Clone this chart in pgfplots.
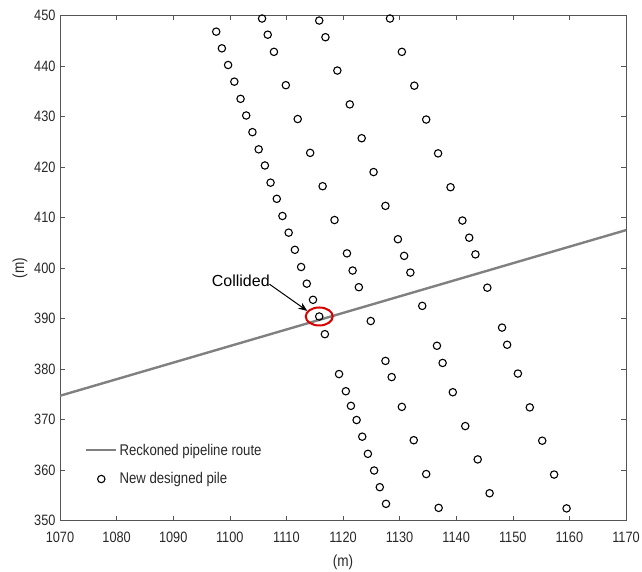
\documentclass[border=0pt]{standalone}
\usepackage{fontspec}
\setmainfont{Liberation Sans}[FakeStretch=0.85]
\newfontfamily\plainsans{Liberation Sans}
\usepackage{pgfplots}
\pgfplotsset{compat=1.18}
\usetikzlibrary{arrows.meta}
\definecolor{axgray}{RGB}{85,85,85}
\definecolor{txtgray}{RGB}{40,40,40}
\definecolor{routegray}{RGB}{128,128,128}
\pgfplotsset{
    routelegend/.style={legend image code/.code={\draw[##1] (0pt,0pt) -- (30pt,0pt);}},
    pilelegend/.style={legend image code/.code={\draw[##1] plot coordinates {(15pt,0pt)};}},
}
\begin{document}
\begin{tikzpicture}
\begin{axis}[
    at={(0,0)}, anchor=south west,
    scale only axis,
    width=566pt, height=505pt,
    xmin=1070, xmax=1170, ymin=350, ymax=450,
    xtick={1070,1080,...,1170},
    ytick={350,360,...,450},
    tick align=inside,
    major tick length=5pt,
    axis line style={axgray, line width=0.8pt},
    tick style={axgray, line width=0.6pt},
    /pgf/number format/assume math mode=true,
    /pgf/number format/1000 sep={},
    ticklabel style={font=\fontsize{15}{17}\selectfont, text=txtgray},
    xticklabel style={yshift=-8pt},
    yticklabel style={xshift=-1pt},
    xlabel={(m)}, ylabel={(m)},
    label style={font=\fontsize{16}{18}\selectfont, text=txtgray},
    xlabel style={at={(axis description cs:0.5,-0.082)}, anchor=center},
    ylabel style={at={(axis description cs:-0.0707,0.5)}, anchor=center},
    clip=false,
    legend style={draw=none, fill=none, at={(axis cs:1074.4,365.6)}, anchor=north west,
        inner xsep=0pt, inner ysep=0pt, row sep=12pt,
        font=\fontsize{15.5}{17}\selectfont, text=txtgray},
    legend cell align=left,
]
% reckoned pipeline route
\addplot[routegray, line width=2.4pt, routelegend]
    coordinates {(1070,374.7) (1170,407.5)};
\addlegendentry{Reckoned pipeline route}
% new designed piles
\addplot[only marks, mark=o, mark size=3.7pt, black, mark options={line width=1.1pt}, pilelegend]
    table {
x y
1097.6 446.8
1098.6 443.5
1099.7 440.2
1100.8 436.9
1101.9 433.5
1102.9 430.2
1104.0 426.9
1105.1 423.5
1106.2 420.3
1107.2 416.9
1108.3 413.7
1109.3 410.3
1110.4 407.0
1111.5 403.6
1112.6 400.2
1113.6 396.9
1114.7 393.7
1115.8 390.4
1116.8 386.9
1119.3 379.0
1120.5 375.6
1121.4 372.7
1122.4 369.9
1123.4 366.6
1124.4 363.2
1125.5 359.9
1126.5 356.6
1127.6 353.3
1105.7 449.4
1106.7 446.2
1107.8 442.8
1109.9 436.2
1112.0 429.5
1114.2 422.8
1116.4 416.2
1118.5 409.5
1120.7 402.9
1121.7 399.5
1122.8 396.2
1124.9 389.5
1127.5 381.6
1128.6 378.4
1130.4 372.5
1132.5 365.9
1134.7 359.2
1136.9 352.5
1115.8 449.0
1116.9 445.7
1119.0 439.1
1121.2 432.4
1123.3 425.7
1125.4 419.0
1127.5 412.3
1129.7 405.7
1130.8 402.4
1131.9 399.1
1134.0 392.5
1136.6 384.6
1137.6 381.2
1139.4 375.4
1141.6 368.7
1143.8 362.1
1145.9 355.4
1128.3 449.4
1130.4 442.8
1132.6 436.1
1134.7 429.4
1136.8 422.7
1139.0 416.0
1141.1 409.4
1142.3 406.0
1143.4 402.7
1145.5 396.1
1148.1 388.2
1149.0 384.8
1150.9 379.1
1153.0 372.4
1155.2 365.8
1157.3 359.1
1159.5 352.4
};
\addlegendentry{New designed pile}
% annotation
\draw[red!85!black, line width=2pt] (axis cs:1115.8,390.4) ellipse [x radius=13.5pt, y radius=9pt];
\draw[black, line width=1pt, -{Stealth[length=9pt,width=7pt]}] (axis cs:1107.0,396.8) -- (axis cs:1113.7,391.5);
\node[anchor=west, inner sep=0pt, text=black, font=\plainsans\fontsize{16}{18}\selectfont] at (axis cs:1096.8,397.4) {Collided};
\end{axis}
\pgfresetboundingbox
\path[use as bounding box] (-60pt,-50.5pt) rectangle (582pt,520.5pt);
\end{tikzpicture}
\end{document}
